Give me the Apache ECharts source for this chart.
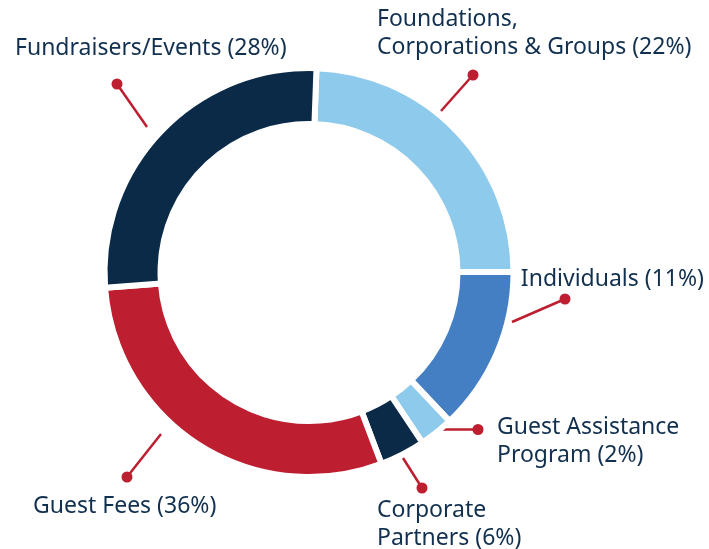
<!DOCTYPE html>
<html>
<head>
<meta charset="utf-8">
<script src="https://cdn.jsdelivr.net/npm/echarts@6/dist/echarts.min.js"></script>
<style>
  html, body { margin: 0; padding: 0; background: #fff; }
  #chart { width: 709px; height: 549px; }
</style>
</head>
<body>
<div id="chart"></div>
<script>
// slices, clockwise from the top
const categories = [
  "Foundations, Corporations & Groups",
  "Individuals",
  "Guest Assistance Program",
  "Corporate Partners",
  "Guest Fees",
  "Fundraisers/Events"
];
// percentages printed in the labels
const statedPct = [22, 11, 2, 6, 36, 28];
// share of the ring each slice takes in the picture
const drawnShare = [24.4, 13.0, 2.7, 3.6, 29.6, 26.8];
// label text, with the line breaks used in the picture
const labelText = [
  "Foundations,\nCorporations & Groups (22%)",
  "Individuals (11%)",
  "Guest Assistance\nProgram (2%)",
  "Corporate\nPartners (6%)",
  "Guest Fees (36%)",
  "Fundraisers/Events (28%)"
];

const colors = ["#8ecaeb", "#457fc3", "#8ecaeb", "#0b2a48", "#bd1f31", "#0b2a48"];
const red = "#bd1f31";
const textColor = "#12304f";

// where each callout sits: leader line start, dot, and text anchor
const callouts = [
  { from: [441, 111], dot: [473, 75], text: [377, 5], align: "left" },
  { from: [512, 322], dot: [565, 299], text: [704, 265], align: "right" },
  { from: [443, 429.5], dot: [478, 429.5], text: [497, 413], align: "left" },
  { from: [403, 458], dot: [422, 488], text: [377, 496], align: "left" },
  { from: [161, 434], dot: [127, 477], text: [33, 492], align: "left" },
  { from: [147, 127], dot: [117, 84], text: [15, 34], align: "left" }
];

const graphics = [];
callouts.forEach((c, i) => {
  graphics.push({
    type: "line",
    shape: { x1: c.from[0], y1: c.from[1], x2: c.dot[0], y2: c.dot[1] },
    style: { stroke: red, lineWidth: 2.5 }
  });
  graphics.push({
    type: "circle",
    shape: { cx: c.dot[0], cy: c.dot[1], r: 5.5 },
    style: { fill: red }
  });
  graphics.push({
    type: "text",
    x: c.text[0],
    y: c.text[1],
    style: {
      text: labelText[i],
      font: "23px 'Noto Sans'",
      fill: textColor,
      lineHeight: 28,
      verticalAlign: "top",
      align: c.align
    }
  });
});

const chart = echarts.init(document.getElementById("chart"));
chart.setOption({
  animation: false,
  series: [
    {
      type: "pie",
      center: [309, 272.5],
      radius: [148.5, 204.5],
      startAngle: 87.9,
      clockwise: true,
      label: { show: false },
      labelLine: { show: false },
      emphasis: { disabled: true },
      itemStyle: { borderColor: "#fff", borderWidth: 6 },
      data: categories.map((name, i) => ({
        name: name,
        value: drawnShare[i],
        itemStyle: { color: colors[i] }
      }))
    }
  ],
  graphic: graphics
});
</script>
</body>
</html>
